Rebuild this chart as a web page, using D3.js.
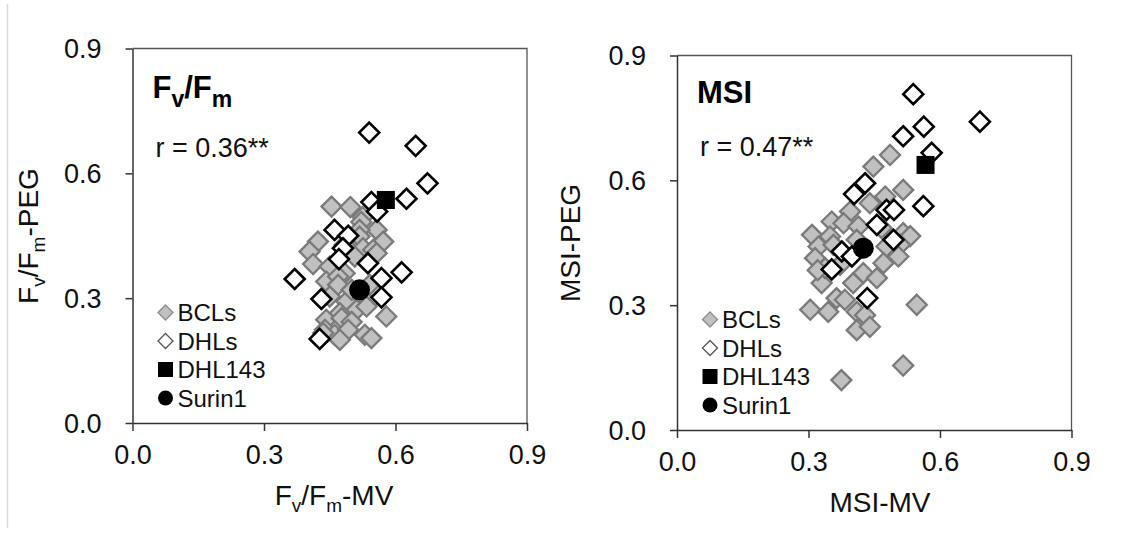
<!DOCTYPE html>
<html><head><meta charset="utf-8">
<script src="https://cdn.jsdelivr.net/npm/d3@7"></script>
<style>body{margin:0;background:#fff}svg{display:block;font-family:"Liberation Sans",Arial,sans-serif}</style>
</head><body><svg id="c" width="1129" height="536"></svg>
<script>
const tickValues = [0, 0.3, 0.6, 0.9];
const legendLabels = ["BCLs", "DHLs", "DHL143", "Surin1"];

// Fv/Fm panel
const fvBclX = [0.454,0.497,0.525,0.522,0.557,0.572,0.423,0.404,0.412,0.450,0.518,0.518,0.526,0.549,0.557,0.507,0.484,0.442,0.469,0.469,0.450,0.488,0.537,0.511,0.534,0.579,0.473,0.442,0.477,0.500,0.439,0.461,0.492,0.530,0.545,0.473,0.435,0.500,0.484,0.541];
const fvBclY = [0.520,0.519,0.495,0.483,0.464,0.436,0.436,0.412,0.382,0.376,0.464,0.448,0.420,0.416,0.408,0.400,0.360,0.340,0.352,0.332,0.304,0.292,0.288,0.272,0.280,0.256,0.264,0.248,0.252,0.243,0.224,0.212,0.224,0.212,0.204,0.200,0.216,0.320,0.428,0.332];
const fvDhlX = [0.540,0.646,0.673,0.625,0.545,0.558,0.461,0.492,0.480,0.471,0.537,0.370,0.568,0.614,0.568,0.431,0.427];
const fvDhlY = [0.698,0.666,0.576,0.539,0.531,0.508,0.464,0.450,0.420,0.394,0.384,0.346,0.348,0.362,0.302,0.298,0.202];
const fvDhl143 = [0.578, 0.536];
const fvSurin1 = [0.518, 0.320];

// MSI panel
const msiBclX = [0.486,0.448,0.516,0.475,0.440,0.395,0.353,0.380,0.414,0.467,0.308,0.349,0.516,0.532,0.323,0.357,0.410,0.478,0.509,0.315,0.330,0.364,0.304,0.345,0.410,0.429,0.410,0.440,0.425,0.456,0.402,0.505,0.471,0.547,0.516,0.375,0.372,0.338,0.383,0.321];
const msiBclY = [0.661,0.633,0.577,0.561,0.545,0.525,0.501,0.497,0.489,0.485,0.469,0.465,0.473,0.466,0.441,0.445,0.457,0.441,0.445,0.413,0.353,0.317,0.289,0.284,0.284,0.276,0.240,0.248,0.377,0.365,0.353,0.417,0.401,0.301,0.155,0.120,0.397,0.389,0.313,0.384];
const msiDhlX = [0.539,0.691,0.563,0.516,0.581,0.429,0.404,0.562,0.478,0.495,0.456,0.494,0.376,0.399,0.353,0.434];
const msiDhlY = [0.807,0.741,0.729,0.706,0.666,0.593,0.567,0.538,0.529,0.529,0.493,0.457,0.429,0.417,0.386,0.317];
const msiDhl143 = [0.567, 0.637];
const msiSurin1 = [0.425, 0.437];

const svg = d3.select("#c");
svg.append("line").attr("x1",7.5).attr("x2",7.5).attr("y1",4).attr("y2",528)
  .attr("stroke","#d9d9d9").attr("stroke-width",1.5);

const TXT = "#111";
const diamond = (cx, cy, r) => `M${cx},${cy-r}L${cx+r},${cy}L${cx},${cy+r}L${cx-r},${cy}Z`;

function panel(o) {
  const x = d3.scaleLinear().domain([0, 0.9]).range([o.x0, o.x1]);
  const y = d3.scaleLinear().domain([0, 0.9]).range([o.y1, o.y0]);
  const g = svg.append("g");
  g.append("path").attr("d", `M${o.x0},${o.y0}H${o.x1}V${o.y1}`)
    .attr("fill","none").attr("stroke","#555").attr("stroke-width",1.3);
  const ax = g.append("g").attr("transform",`translate(0,${o.y1})`)
    .call(d3.axisBottom(x).tickValues(tickValues).tickFormat(d3.format(".1f")).tickSize(8).tickSizeOuter(0).tickPadding(14));
  const ay = g.append("g").attr("transform",`translate(${o.x0},0)`)
    .call(d3.axisLeft(y).tickValues(tickValues).tickFormat(d3.format(".1f")).tickSize(7).tickSizeOuter(0).tickPadding(24));
  [ax, ay].forEach(a => {
    a.select(".domain").attr("stroke","#333").attr("stroke-width",1.5);
    a.selectAll(".tick line").attr("stroke","#333").attr("stroke-width",1.5);
    a.selectAll(".tick text").attr("fill",TXT).style("font-size","27px").style("font-family","Liberation Sans, Arial, sans-serif");
  });
  ay.selectAll(".tick text").attr("dy","0.34em");

  g.append("g").selectAll("path").data(o.bclX.map((v,i)=>[v,o.bclY[i]])).join("path")
    .attr("d", d => diamond(x(d[0]), y(d[1]), 10))
    .attr("fill","#c0c0c0").attr("stroke","#7a7a7a").attr("stroke-width",2.3);
  g.append("g").selectAll("path").data(o.dhlX.map((v,i)=>[v,o.dhlY[i]])).join("path")
    .attr("d", d => diamond(x(d[0]), y(d[1]), 10))
    .attr("fill","#fff").attr("stroke","#000").attr("stroke-width",2.6);
  g.append("rect").attr("x", x(o.dhl143[0])-9).attr("y", y(o.dhl143[1])-9)
    .attr("width",18).attr("height",18).attr("fill","#000");
  g.append("circle").attr("cx", x(o.surin1[0])).attr("cy", y(o.surin1[1])).attr("r",10.5).attr("fill","#000");

  const t = g.append("text").attr("x", o.x0+20).attr("y", o.titleY).attr("fill","#000")
    .style("font-weight","bold").style("font-size","31px");
  o.title(t);
  g.append("text").attr("x", o.x0+23).attr("y", o.rY).attr("fill",TXT)
    .style("font-size","27px").text(o.rText);

  const lx = o.x0 + 33, ly = o.y0 + 264, step = 28.5;
  legendLabels.forEach((lab, i) => {
    const cy = ly + i*step;
    if (i === 0) g.append("path").attr("d", diamond(lx, cy, 7.5)).attr("fill","#c0c0c0").attr("stroke","#8c8c8c").attr("stroke-width",1.3);
    if (i === 1) g.append("path").attr("d", diamond(lx, cy, 7.5)).attr("fill","#fff").attr("stroke","#555").attr("stroke-width",1.3);
    if (i === 2) g.append("rect").attr("x", lx-7.5).attr("y", cy-7.5).attr("width",15).attr("height",15).attr("fill","#000");
    if (i === 3) g.append("circle").attr("cx", lx).attr("cy", cy).attr("r",7.5).attr("fill","#000");
    g.append("text").attr("x", lx+12).attr("y", cy).attr("dy","0.36em").attr("fill",TXT)
      .style("font-size","24px").text(lab);
  });

  const xt = g.append("text").attr("x", o.xTitleX).attr("y", o.y1+82).attr("text-anchor","middle")
    .attr("fill",TXT).style("font-size","28px");
  o.xTitle(xt);
  const yt = g.append("text").attr("transform", `translate(${o.yTitleX},${o.yTitleY}) rotate(-90)`)
    .attr("text-anchor","middle").attr("fill",TXT).style("font-size","28px");
  o.yTitle(yt);
}

function fvfm(t, suffix, big) {
  const s = big ? 23 : 19, sh = big ? 9 : 7;
  t.append("tspan").text("F");
  t.append("tspan").attr("dy", sh).style("font-size", s+"px").text("v");
  t.append("tspan").attr("dy", -sh).text("/F");
  t.append("tspan").attr("dy", sh).style("font-size", s+"px").text("m");
  if (suffix) t.append("tspan").attr("dy", -sh).text(suffix);
}

panel({
  x0: 132.5, x1: 527, y0: 48.5, y1: 423,
  bclX: fvBclX, bclY: fvBclY, dhlX: fvDhlX, dhlY: fvDhlY, dhl143: fvDhl143, surin1: fvSurin1,
  titleY: 98, title: t => fvfm(t, null, true),
  rY: 157, rText: "r = 0.36**",
  xTitleX: 334, xTitle: t => fvfm(t, "-MV"),
  yTitleX: 38, yTitleY: 236, yTitle: t => fvfm(t, "-PEG")
});
panel({
  x0: 677, x1: 1071.5, y0: 55.5, y1: 430,
  bclX: msiBclX, bclY: msiBclY, dhlX: msiDhlX, dhlY: msiDhlY, dhl143: msiDhl143, surin1: msiSurin1,
  titleY: 102.5, title: t => t.text("MSI"),
  rY: 155.5, rText: "r = 0.47**",
  xTitleX: 880, xTitle: t => t.text("MSI-MV"),
  yTitleX: 580, yTitleY: 243, yTitle: t => t.text("MSI-PEG")
});
</script></body></html>
